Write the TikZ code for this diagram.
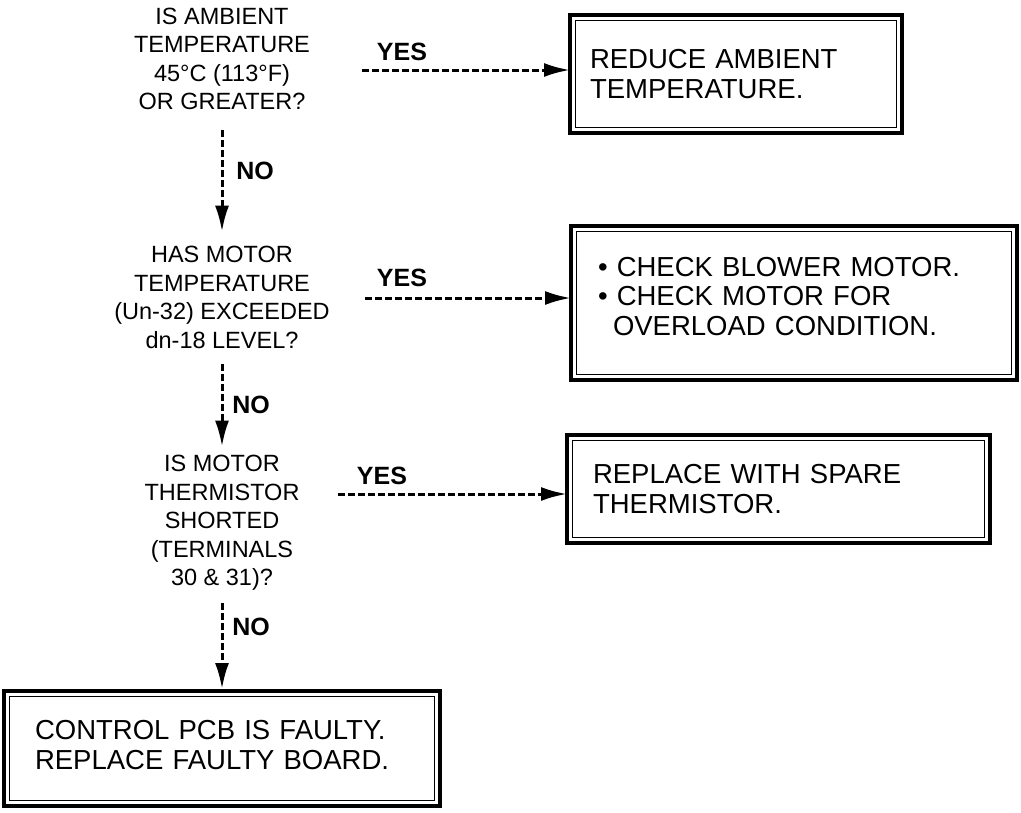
\documentclass[tikz,border=0pt]{standalone}
\usepackage{fontspec}
\setmainfont{Liberation Sans}
\usetikzlibrary{arrows.meta}
\begin{document}
\begin{tikzpicture}[x=1pt,y=-1pt,
  qtext/.style={align=center, inner sep=0pt, font=\fontsize{23.5}{28.5}\selectfont},
  lbl/.style={inner sep=0pt, font=\fontsize{25}{30}\selectfont\bfseries},
  box/.style={draw, line width=3.6pt, anchor=north west, outer sep=0pt, align=left,
              inner ysep=0pt, font=\fontsize{27.5}{29.5}\selectfont},
  innerbox/.style={line width=1.4pt},
  arr/.style={line width=3pt, dash pattern=on 7pt off 3pt, -{Latex[length=26pt,width=14pt]}},
]
\useasboundingbox (0,0) rectangle (1021,812);

% questions
\node[qtext] (q1) at (222,59) {IS AMBIENT\\TEMPERATURE\\45°C (113°F)\\OR GREATER?};
\node[qtext] (q2) at (222,297.5) {HAS MOTOR\\TEMPERATURE\\(Un-32) EXCEEDED\\dn-18 LEVEL?};
\node[qtext] (q3) at (222,523) {IS MOTOR\\THERMISTOR\\SHORTED\\(TERMINALS\\30 \& 31)?};

% action boxes
\node[box, minimum width=332pt, minimum height=118pt, inner xsep=20pt, text width=292pt] (b1) at (570,15)
  {REDUCE AMBIENT\\TEMPERATURE.};
\node[box, minimum width=446pt, minimum height=154pt, inner xsep=27pt, text width=392pt, text depth=73pt] (b2) at (571,226)
  {\textbullet\ CHECK BLOWER MOTOR.\\\textbullet\ CHECK MOTOR FOR\\\hspace*{15pt}OVERLOAD CONDITION.};
\node[box, minimum width=423pt, minimum height=108pt, inner xsep=26pt, text width=371pt] (b3) at (567,435)
  {REPLACE WITH SPARE\\THERMISTOR.};
\node[box, minimum width=436pt, minimum height=115pt, inner xsep=31pt, text width=374pt, text depth=36.5pt] (b4) at (4,691)
  {CONTROL PCB IS FAULTY.\\REPLACE FAULTY BOARD.};

\foreach \b in {b1,b2,b3,b4}
  \draw[innerbox] ([shift={(5.6pt,-5.6pt)}]\b.north west) rectangle ([shift={(-5.6pt,5.6pt)}]\b.south east);

% NO connectors
\draw[arr, shorten <=20pt, shorten >=14.6pt] (q1.south) -- (q2.north);
\draw[arr, shorten <=15.6pt, shorten >=8.6pt] (q2.south) -- (q3.north);
\draw[arr, shorten <=12.6pt, shorten >=2pt] (q3.south) -- (b4.north);
\node[lbl] (no1) at (255,171) {NO};
\node[lbl] (no2) at (251,405) {NO};
\node[lbl] (no3) at (251,627) {NO};

% YES connectors
\coordinate (y1) at (362,70);
\coordinate (y2) at (365,298);
\coordinate (y3) at (338,494);
\draw[arr] (y1) -- (y1 -| b1.west);
\draw[arr] (y2) -- (y2 -| b2.west);
\draw[arr] (y3) -- (y3 -| b3.west);
\node[lbl] (yes1) at (402,52) {YES};
\node[lbl] (yes2) at (402,278) {YES};
\node[lbl] (yes3) at (382,476) {YES};
\end{tikzpicture}
\end{document}
